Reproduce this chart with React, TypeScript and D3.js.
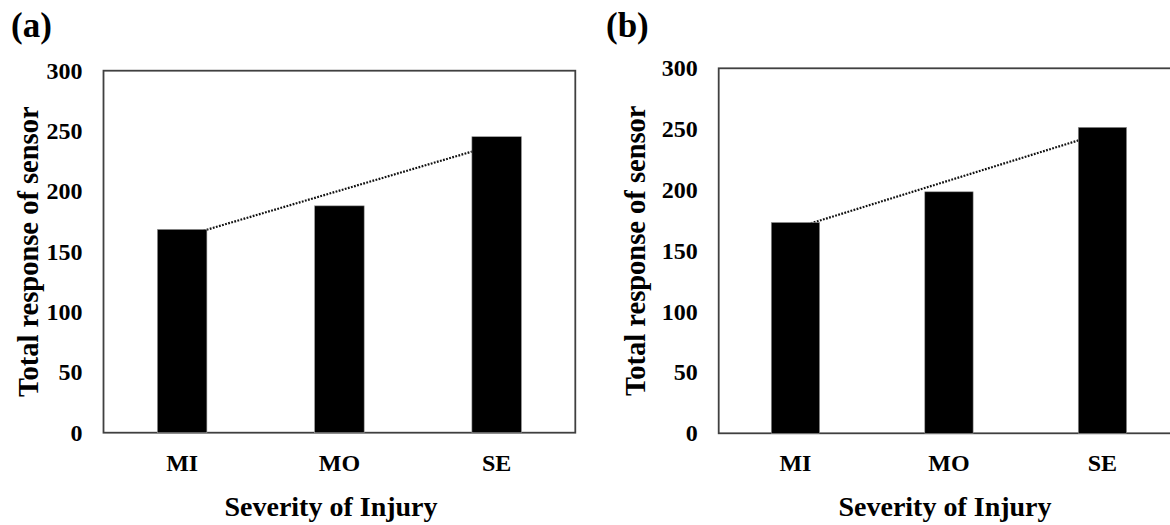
import React from "react";
import * as d3 from "d3";

const categories = ["MI", "MO", "SE"];
const valuesA = [168.5, 188, 245.3];
const valuesB = [173.3, 198.5, 251.5];
const yTicks = [0, 50, 100, 150, 200, 250, 300];
const panelLabels = ["(a)", "(b)"];
const yTitle = "Total response of sensor";
const xTitle = "Severity of Injury";

const W = 1170;
const H = 525;
const FONT = "'Liberation Serif', 'Times New Roman', serif";

type PanelLayout = {
  left: number;
  right: number;
  top: number;
  bottom: number;
  tagX: number;
  yTitleX: number;
  xTitleX: number;
};

const layouts: PanelLayout[] = [
  { left: 103.5, right: 575.3, top: 70.7, bottom: 432.7, tagX: 11, yTitleX: 38, xTitleX: 331 },
  { left: 718.7, right: 1179.2, top: 68.3, bottom: 433.3, tagX: 606, yTitleX: 645, xTitleX: 945 },
];

function linReg(vals: number[]) {
  const xs = vals.map((_, i) => i);
  const mx = d3.mean(xs) as number;
  const my = d3.mean(vals) as number;
  let num = 0;
  let den = 0;
  xs.forEach((x, i) => {
    num += (x - mx) * (vals[i] - my);
    den += (x - mx) * (x - mx);
  });
  const slope = num / den;
  const icpt = my - slope * mx;
  return (x: number) => icpt + slope * x;
}

function Panel({ values, layout, tag }: { values: number[]; layout: PanelLayout; tag: string }) {
  const x = d3
    .scaleBand<string>()
    .domain(categories)
    .range([layout.left, layout.right])
    .paddingInner(0.685)
    .paddingOuter(0.3425);
  const y = d3.scaleLinear().domain([0, 300]).range([layout.bottom, layout.top]);
  const fit = linReg(values);
  const trend = d3
    .line<number>()
    .x((i) => (x(categories[i]) as number) + x.bandwidth() / 2)
    .y((i) => y(fit(i)));
  const idx = [0, categories.length - 1];
  const midY = (layout.top + layout.bottom) / 2;
  return (
    <g fontFamily={FONT} fontWeight="bold" fill="#000">
      <text x={layout.tagX} y={37} fontSize={35}>
        {tag}
      </text>
      <rect
        x={layout.left}
        y={layout.top}
        width={layout.right - layout.left}
        height={layout.bottom - layout.top}
        fill="none"
        stroke="#404040"
        strokeWidth={1.8}
      />
      <path
        d={trend(idx) || ""}
        fill="none"
        stroke="#111"
        strokeWidth={2.2}
        strokeDasharray="1.8 1.4"
      />
      {values.map((v, i) => (
        <rect
          key={categories[i]}
          x={x(categories[i])}
          y={y(v)}
          width={x.bandwidth()}
          height={y(0) - y(v)}
          fill="#000"
          stroke="#999"
          strokeWidth={0.6}
        />
      ))}
      {yTicks.map((t) => (
        <text
          key={t}
          x={layout.left - 21}
          y={y(t)}
          textAnchor="end"
          dominantBaseline="central"
          fontSize={24}
        >
          {t}
        </text>
      ))}
      {categories.map((c) => (
        <text
          key={c}
          x={(x(c) as number) + x.bandwidth() / 2}
          y={471}
          textAnchor="middle"
          fontSize={24}
        >
          {c}
        </text>
      ))}
      <text
        transform={`translate(${layout.yTitleX},${midY}) rotate(-90)`}
        textAnchor="middle"
        fontSize={28.5}
      >
        {yTitle}
      </text>
      <text x={layout.xTitleX} y={516} textAnchor="middle" fontSize={28}>
        {xTitle}
      </text>
    </g>
  );
}

export default function App() {
  const series = [valuesA, valuesB];
  return (
    <svg
      width={W}
      height={H}
      viewBox={`0 0 ${W} ${H}`}
      style={{ position: "absolute", left: 0, top: 0, background: "#fff" }}
    >
      <rect x={0} y={0} width={W} height={H} fill="#fff" />
      {series.map((vals, i) => (
        <Panel key={i} values={vals} layout={layouts[i]} tag={panelLabels[i]} />
      ))}
    </svg>
  );
}
